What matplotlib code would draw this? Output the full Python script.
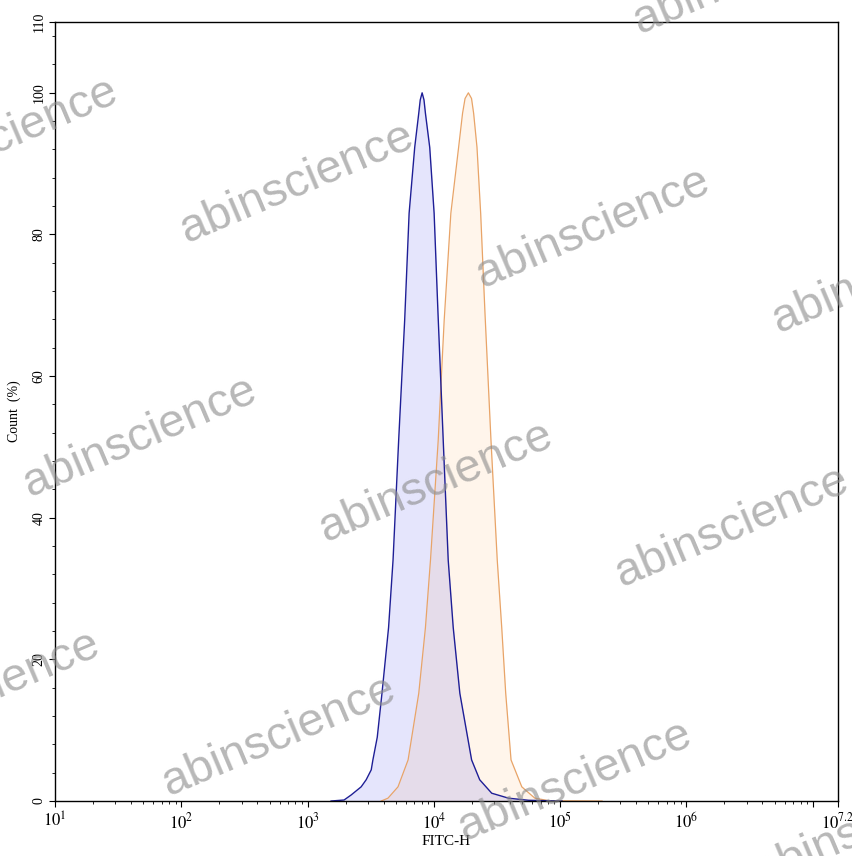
import numpy as np
import matplotlib
matplotlib.use('Agg')
import matplotlib.pyplot as plt
import matplotlib.ticker as mticker

plt.rcParams['font.family'] = ['Liberation Serif', 'DejaVu Serif']
plt.rcParams['mathtext.fontset'] = 'stix'

# blue histogram, FITC-H value -> count %
blue_x = [1535, 1945, 2213, 2656, 2911, 3192, 3290, 3562, 3882, 4379, 4750,
          5262, 5873, 6368, 7052, 7590, 7800, 8072, 8350, 8575, 9272, 10046,
          10780, 11860, 12990, 14230, 16060, 19900, 23060, 28710, 38990,
          56230, 103300]
blue_y = [0, 0.14, 0.85, 2.0, 3.0, 4.4, 5.8, 9.0, 15.2, 24.5, 34.0,
          50.9, 67.9, 83.0, 92.3, 97.1, 99.0, 100, 99.0, 97.1, 92.3, 83.0,
          68.9, 50.9, 34.0, 24.5, 15.2, 5.8, 3.0, 1.1, 0.4,
          0.1, 0]

# orange histogram
orange_x = [3828, 4331, 5200, 6250, 7590, 8575, 9400, 10820, 12070, 13630,
            15700, 16870, 17660, 18760, 19870, 20650, 21950, 23470, 25390,
            28330, 31760, 34460, 37060, 40830, 49690, 63030, 81000, 214600]
orange_y = [0, 0.4, 2.0, 5.8, 15.2, 24.5, 34.0, 50.9, 67.9, 83.0,
            92.3, 97.1, 99.2, 100, 99.2, 97.1, 92.3, 83.0, 68.9,
            50.9, 34.0, 24.5, 15.2, 5.8, 2.0, 0.4, 0.05, 0]

xtick_exp = [1, 2, 3, 4, 5, 6, 7, 7.2]
xtick_lab = ['1', '2', '3', '4', '5', '6', '', '7.2']
ytick_major = [0, 20, 40, 60, 80, 100, 110]

W, H = 853, 856
fig = plt.figure(figsize=(W / 100, H / 100), dpi=100)
ax = fig.add_axes([55 / W, 1 - 801 / H, (838 - 55) / W, (801 - 22) / H])

ax.fill_between(orange_x, orange_y, 0, color='#ff8c00', alpha=0.08, lw=0)
ax.plot(orange_x, orange_y, color='#e8a468', lw=0.9)
ax.fill_between(blue_x, blue_y, 0, color='#0000e6', alpha=0.10, lw=0)
ax.plot(blue_x, blue_y, color='#1e1e96', lw=1.0)

ax.set_xscale('log')
ax.set_xlim(10, 10 ** 7.2)
ax.set_ylim(0, 110)

ax.xaxis.set_major_locator(mticker.FixedLocator([10 ** e for e in xtick_exp]))
ax.xaxis.set_major_formatter(mticker.FixedFormatter(
    [r'$10^{%s}$' % s if s else '' for s in xtick_lab]))
ax.xaxis.set_minor_locator(mticker.LogLocator(base=10, subs=np.arange(2, 10), numticks=20))
ax.xaxis.set_minor_formatter(mticker.NullFormatter())

ax.yaxis.set_major_locator(mticker.FixedLocator(ytick_major))
ax.yaxis.set_minor_locator(mticker.MultipleLocator(4))
ax.tick_params(axis='y', which='major', labelrotation=90, labelsize=10, length=4, width=0.8, pad=3)
ax.tick_params(axis='y', which='minor', length=2.5, width=0.6)
ax.tick_params(axis='x', which='major', labelsize=12, length=4, width=0.8, pad=4)
ax.tick_params(axis='x', which='minor', length=2.5, width=0.6)
for lab in ax.get_yticklabels():
    lab.set_verticalalignment('center')

for s in ax.spines.values():
    s.set_linewidth(1.0)

ax.set_xlabel('FITC-H', fontsize=11, labelpad=2)
ax.set_ylabel('Count  (%)', fontsize=10, labelpad=8)

# watermark grid
ox, oy = 187, 243
for i in range(-1, 3):
    for j in range(-2, 4):
        px = ox + j * 296 - i * 157
        py = oy + j * 45 + i * 254
        if px > W + 10 or px < -300 or py < 10 or py > H + 60:
            continue
        fig.text(px / W, 1 - py / H, 'abinscience', family='Liberation Sans',
                 fontsize=34, color='#8c8c8c', alpha=0.62, rotation=23,
                 rotation_mode='anchor', ha='left', va='baseline', zorder=10)

fig.savefig('out.png', dpi=100)
